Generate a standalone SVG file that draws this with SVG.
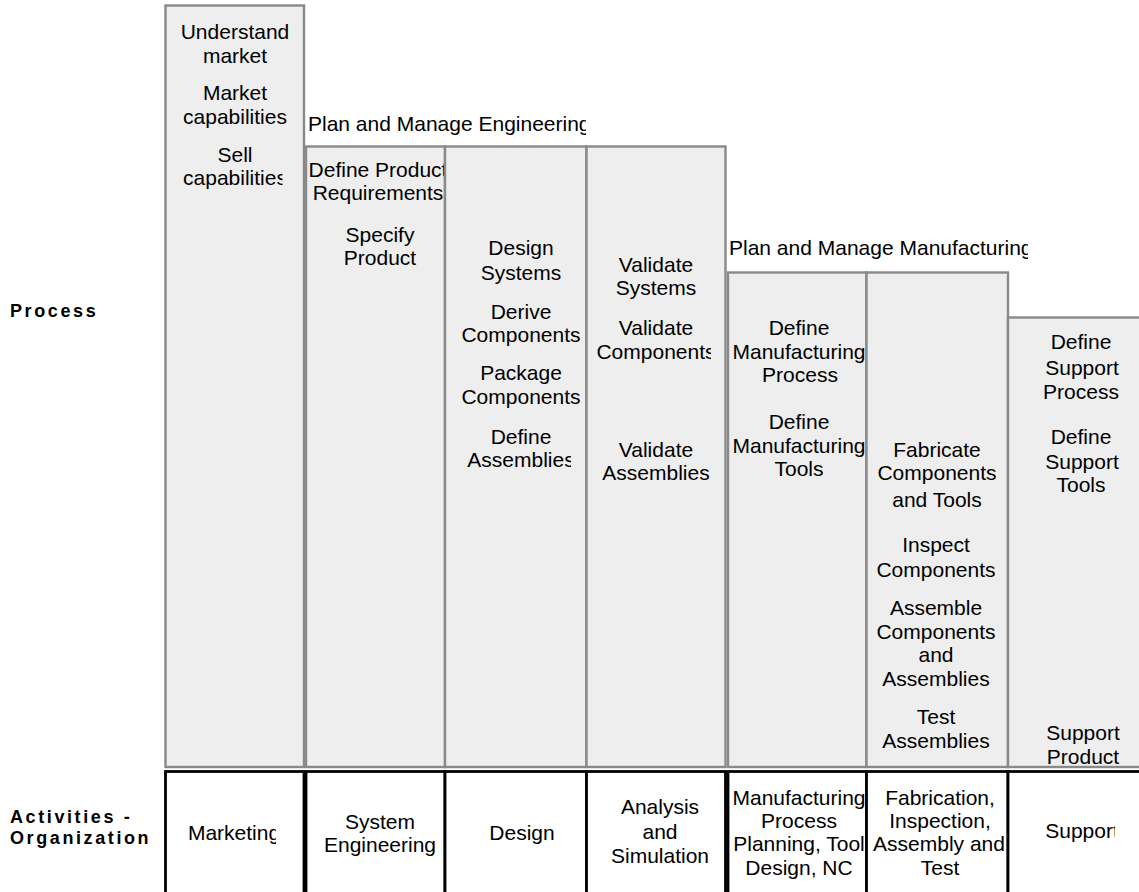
<svg xmlns="http://www.w3.org/2000/svg" width="1139" height="892" viewBox="0 0 1139 892">
<style>
.col{fill:#eeeeee;stroke:#898989;stroke-width:2.4}
.cell{fill:#ffffff;stroke:#000000;stroke-width:2.8}
text{font-family:"Liberation Sans",Arial,sans-serif;fill:#000;font-size:21px}
.c{text-anchor:middle}
.lbl{font-weight:bold;font-size:18px;letter-spacing:2.6px}
</style>
<defs>
<clipPath id="clSell"><rect x="160" y="140" width="122.5" height="60"/></clipPath>
<clipPath id="clEng"><rect x="300" y="100" width="286" height="40"/></clipPath>
<clipPath id="clAsm"><rect x="446" y="450" width="125" height="30"/></clipPath>
<clipPath id="clVC"><rect x="588" y="340" width="123" height="30"/></clipPath>
<clipPath id="clMfg"><rect x="725" y="230" width="303" height="40"/></clipPath>
<clipPath id="clMkt"><rect x="170" y="815" width="106" height="40"/></clipPath>
<clipPath id="clPlan"><rect x="729" y="830" width="137" height="30"/></clipPath>
<clipPath id="clSup"><rect x="1010" y="815" width="105" height="40"/></clipPath>
</defs>

<g id="labels">
<text class="lbl" x="10" y="317">Process</text>
<text class="lbl" x="10" y="823">Activities -</text>
<text class="lbl" x="10" y="843.5">Organization</text>
</g>

<g id="col-marketing">
<rect class="col" x="165.5" y="5.5" width="138.5" height="761.5"/>
<text class="c" x="235" y="39">Understand</text>
<text class="c" x="235" y="63">market</text>
<text class="c" x="235" y="100">Market</text>
<text class="c" x="235" y="124">capabilities</text>
<text class="c" x="235" y="161.5">Sell</text>
<text class="c" x="235" y="185" clip-path="url(#clSell)">capabilities</text>
</g>

<g id="header-engineering">
<text x="308" y="131" clip-path="url(#clEng)">Plan and Manage Engineering</text>
</g>

<g id="col-requirements">
<rect class="col" x="306" y="146.5" width="139" height="620.5"/>
<text class="c" x="378" y="176.5">Define Product</text>
<text class="c" x="378" y="200">Requirements</text>
<text class="c" x="380" y="241.5">Specify</text>
<text class="c" x="380" y="265">Product</text>
</g>

<g id="col-design">
<rect class="col" x="445" y="146.5" width="141.5" height="620.5"/>
<text class="c" x="521" y="255">Design</text>
<text class="c" x="521" y="280">Systems</text>
<text class="c" x="521" y="318.5">Derive</text>
<text class="c" x="521" y="342">Components</text>
<text class="c" x="521" y="380">Package</text>
<text class="c" x="521" y="403.5">Components</text>
<text class="c" x="521" y="443.5">Define</text>
<text class="c" x="521" y="467" clip-path="url(#clAsm)">Assemblies</text>
</g>

<g id="col-validate">
<rect class="col" x="586.5" y="146.5" width="139" height="620.5"/>
<text class="c" x="656" y="272">Validate</text>
<text class="c" x="656" y="295">Systems</text>
<text class="c" x="656" y="335">Validate</text>
<text class="c" x="656" y="358.5" clip-path="url(#clVC)">Components</text>
<text class="c" x="656" y="457">Validate</text>
<text class="c" x="656" y="480">Assemblies</text>
</g>

<g id="header-manufacturing">
<text x="729" y="255" clip-path="url(#clMfg)">Plan and Manage Manufacturing</text>
</g>

<g id="col-mfg-process">
<rect class="col" x="728" y="272.5" width="138.5" height="494.5"/>
<text class="c" x="799" y="335">Define</text>
<text class="c" x="799" y="359">Manufacturing</text>
<text class="c" x="800" y="382">Process</text>
<text class="c" x="799" y="428.5">Define</text>
<text class="c" x="799" y="452.5">Manufacturing</text>
<text class="c" x="799" y="476">Tools</text>
</g>

<g id="col-fabrication">
<rect class="col" x="866.5" y="272.5" width="141.5" height="494.5"/>
<text class="c" x="937" y="457">Fabricate</text>
<text class="c" x="937" y="480">Components</text>
<text class="c" x="937" y="507">and Tools</text>
<text class="c" x="936" y="552">Inspect</text>
<text class="c" x="936" y="577">Components</text>
<text class="c" x="936" y="615">Assemble</text>
<text class="c" x="936" y="638.5">Components</text>
<text class="c" x="936" y="662">and</text>
<text class="c" x="936" y="685.5">Assemblies</text>
<text class="c" x="936" y="724">Test</text>
<text class="c" x="936" y="747.5">Assemblies</text>
</g>

<g id="col-support">
<rect class="col" x="1008" y="317.5" width="145" height="449.5"/>
<text class="c" x="1081" y="348.5">Define</text>
<text class="c" x="1082" y="375">Support</text>
<text class="c" x="1081" y="399">Process</text>
<text class="c" x="1081" y="443.5">Define</text>
<text class="c" x="1082" y="468.5">Support</text>
<text class="c" x="1081" y="492">Tools</text>
<text class="c" x="1083" y="740">Support</text>
<text class="c" x="1083" y="763.5">Product</text>
</g>

<g id="org-marketing">
<rect class="cell" x="165.5" y="771.5" width="138.5" height="130"/>
<text class="c" x="234" y="839.5" clip-path="url(#clMkt)">Marketing</text>
</g>
<g id="org-system-engineering">
<rect class="cell" x="306" y="771.5" width="139" height="130"/>
<text class="c" x="380" y="828.5">System</text>
<text class="c" x="380" y="852">Engineering</text>
</g>
<g id="org-design">
<rect class="cell" x="445" y="771.5" width="141.5" height="130"/>
<text class="c" x="522" y="839.5">Design</text>
</g>
<g id="org-analysis">
<rect class="cell" x="586.5" y="771.5" width="139" height="130"/>
<text class="c" x="660" y="814">Analysis</text>
<text class="c" x="660" y="839">and</text>
<text class="c" x="660" y="863">Simulation</text>
</g>
<g id="org-mfg-planning">
<rect class="cell" x="728" y="771.5" width="138.5" height="130"/>
<text class="c" x="799" y="805">Manufacturing</text>
<text class="c" x="799" y="828">Process</text>
<text class="c" x="799" y="851" clip-path="url(#clPlan)">Planning, Tool</text>
<text class="c" x="799" y="875">Design, NC</text>
</g>
<g id="org-fabrication">
<rect class="cell" x="866.5" y="771.5" width="141.5" height="130"/>
<text class="c" x="940" y="805">Fabrication,</text>
<text class="c" x="940" y="828">Inspection,</text>
<text class="c" x="939" y="851">Assembly and</text>
<text class="c" x="940" y="875">Test</text>
</g>
<g id="org-support">
<rect class="cell" x="1008" y="771.5" width="145" height="130"/>
<text class="c" x="1082" y="838" clip-path="url(#clSup)">Support</text>
</g>

<g id="connectors"></g>
</svg>
